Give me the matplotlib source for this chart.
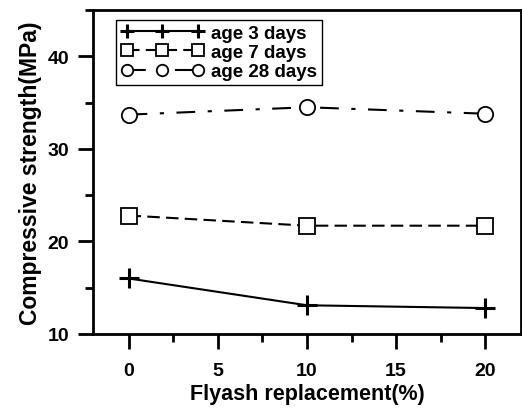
import numpy as np
import matplotlib
matplotlib.use('Agg')
import matplotlib.pyplot as plt
from matplotlib.ticker import MultipleLocator

plt.rcParams['font.family'] = ['Liberation Sans', 'DejaVu Sans']
plt.rcParams['font.weight'] = 'bold'

flyash = [0, 10, 20]
age_3 = [16.0, 13.1, 12.8]
age_7 = [22.8, 21.7, 21.7]
age_28 = [33.7, 34.5, 33.8]
labels = ['age 3 days', 'age 7 days', 'age 28 days']

fig = plt.figure(figsize=(5.22, 4.10), dpi=100)
ax = fig.add_axes([0.178, 0.183, 0.82, 0.79])

ax.plot(flyash, age_3, color='black', lw=1.5, marker='+', ms=14, mew=2.2,
        label=labels[0])
ax.plot(flyash, age_7, color='black', lw=1.5, dashes=(6, 3), marker='s',
        ms=11, mfc='white', mew=1.3, label=labels[1])
ax.plot(flyash, age_28, color='black', lw=1.5, dashes=(9, 6, 2, 6),
        marker='o', ms=11, mfc='white', mew=1.3, label=labels[2])

ax.set_xlim(-2, 22)
ax.set_ylim(10, 45)
ax.xaxis.set_major_locator(MultipleLocator(5))
ax.xaxis.set_minor_locator(MultipleLocator(2.5))
ax.yaxis.set_major_locator(MultipleLocator(10))
ax.yaxis.set_minor_locator(MultipleLocator(5))
ax.tick_params(which='major', direction='out', length=11, width=2,
               labelsize=14, pad=6)
ax.tick_params(axis='x', which='major', pad=9)
ax.tick_params(which='minor', direction='out', length=6, width=2)
ax.tick_params(top=False, right=False)
for s in ax.spines.values():
    s.set_linewidth(2)

ax.set_xlabel('Flyash replacement(%)', fontsize=15.5, fontweight='bold',
              labelpad=3)
ax.set_ylabel('Compressive strength(MPa)', fontsize=16.5, fontweight='bold',
              labelpad=4)

leg = ax.legend(loc='upper left', bbox_to_anchor=(0.055, 0.97), numpoints=3,
                handlelength=4.4, fontsize=13.5, markerscale=0.75,
                fancybox=False, edgecolor='black', framealpha=1,
                borderpad=0.25, labelspacing=0.12, handletextpad=0.4,
                borderaxespad=0)
leg.get_frame().set_linewidth(1)

fig.savefig('out.png', dpi=100)
